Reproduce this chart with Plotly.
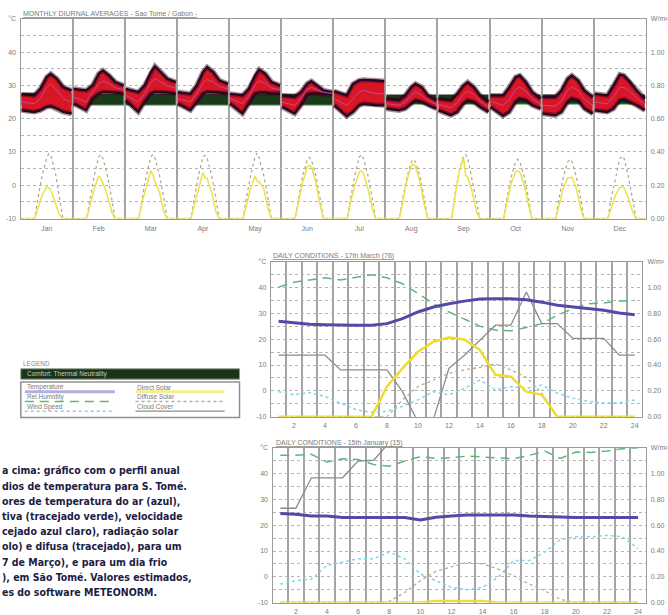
import plotly.graph_objects as go

W, H = 668, 615

# ---------------- data: monthly diurnal averages ----------------
MONTHS = ["Jan", "Feb", "Mar", "Apr", "May", "Jun", "Jul", "Aug", "Sep", "Oct", "Nov", "Dec"]
TEMP_HOURS = [0, 6, 9, 12, 14, 17, 20, 24]
TEMP_UPPER = [
    [27.3, 27, 29, 32.5, 33.5, 32, 29.5, 28.5],
    [29, 28.5, 30, 33.5, 34.5, 33, 31, 30],
    [29, 28, 30, 34, 35.8, 34, 32, 31],
    [28, 27.5, 30, 34, 35.5, 34, 31.5, 30.5],
    [27.5, 27, 29, 33, 34.8, 33.5, 31, 30],
    [27, 26.5, 28, 30.5, 31.3, 30, 28.5, 28],
    [28.3, 27, 30.5, 31.5, 31.7, 31.5, 31.5, 31.3],
    [26, 25.5, 27, 29.5, 30.5, 29.5, 27, 25.5],
    [26, 25.5, 27.5, 30, 31, 29.5, 27, 25],
    [27, 27, 29.5, 32.5, 33, 31, 28, 26],
    [26.5, 26.5, 28.5, 32, 33, 31.5, 28.5, 26.5],
    [27.5, 27, 30, 33.3, 33, 31, 28.5, 26],
]
TEMP_LOWER = [
    [22.5, 22, 22.5, 23.5, 23.7, 23, 22, 21.5],
    [24.5, 22.5, 26, 27.5, 28, 28, 27.8, 27.5],
    [25.5, 22, 25, 27.5, 28, 28, 27.8, 27.5],
    [24.5, 22.5, 25, 27.5, 28, 28, 27.8, 27.5],
    [24.5, 21.5, 24.5, 27.5, 27.8, 27.8, 27.5, 27.5],
    [23.5, 21.5, 24, 27.3, 27.6, 27.5, 27.3, 27.3],
    [24, 20.7, 22, 24, 24.5, 24.3, 24, 24],
    [23, 22.5, 23, 24.5, 25.5, 25, 24, 23],
    [22.5, 21, 22, 24.5, 25.5, 25, 23.5, 22],
    [23.5, 20.8, 22, 25, 26, 25.5, 24, 23],
    [21.5, 21, 22, 25, 26, 25.5, 23, 21.5],
    [22.5, 22, 23, 25.5, 25.8, 25, 24, 22.5],
]
TEMP_MEAN = [
    [25, 24.5, 26, 29.5, 30.5, 28.5, 26, 25],
    [26.5, 25, 28, 30.5, 31.3, 30.5, 29.3, 28.7],
    [27, 25, 27.5, 30.8, 32, 31, 29.8, 29.2],
    [26, 25, 27.5, 30.8, 31.8, 31, 29.6, 29],
    [26, 24.5, 26.8, 30.2, 31.3, 30.6, 29.2, 28.7],
    [25, 24, 26, 28.9, 29.4, 28.7, 27.9, 27.6],
    [26, 24, 26, 28, 28.5, 28, 27.5, 27.5],
    [24.5, 24, 25, 27, 28, 27, 25.5, 24.3],
    [24.3, 23.3, 24.8, 27.3, 28.3, 27.3, 25.3, 23.5],
    [25.3, 24, 25.8, 28.8, 29.5, 28.3, 26, 24.5],
    [24, 23.8, 25.3, 28.5, 29.5, 28.5, 25.8, 24],
    [25, 24.5, 26.5, 29.4, 29.4, 28, 26.3, 24.3],
]
COMFORT_LOW = [24, 24, 24, 24, 24, 24, 24, 24.3, 24.3, 24.3, 24.3, 24.3]
COMFORT_HIGH = [27.8, 27.5, 27.5, 27.5, 27.5, 27.5, 27.5, 27.3, 27.3, 27.3, 27.3, 27.3]

SOLAR_HOURS = [0, 6.5, 8, 10, 12, 13, 14, 16, 18, 19.5, 24]
DIFFUSE_MONTH = [
    [-10, -10, -4, 3, 8, 9.5, 9, 4, -4, -10, -10],
    [-10, -10, -4, 3, 8.5, 9.2, 8, 3, -4, -10, -10],
    [-10, -10, -4, 3, 8.5, 9.2, 8, 3, -4, -10, -10],
    [-10, -10, -4, 3, 8.5, 9, 8, 3, -4, -10, -10],
    [-10, -10, -4, 3, 8.5, 9.7, 8, 3, -4, -10, -10],
    [-10, -10, -4, 3, 7.5, 8.4, 7.5, 3, -4, -10, -10],
    [-10, -10, -4, 3, 8.5, 9.2, 8, 3, -4, -10, -10],
    [-10, -10, -4, 2.5, 7, 7.8, 7, 2.5, -4, -10, -10],
    [-10, -10, -3, 4, 9, 9.2, 8, 2, -5, -10, -10],
    [-10, -10, -4, 2.5, 7, 7.8, 7, 2.5, -4, -10, -10],
    [-10, -10, -4, 2.5, 7, 7.8, 7, 2.5, -4, -10, -10],
    [-10, -10, -4, 2.5, 8, 8.8, 8, 2.5, -4, -10, -10],
]
DIRECT_MONTH = [
    [-10, -10, -7, -3, -0.5, -0.8, -1.5, -5, -9, -10, -10],
    [-10, -10, -6, -1, 2.8, 2, 0.5, -3, -8, -10, -10],
    [-10, -10, -5, 0, 4.4, 3, 1, -2, -8, -10, -10],
    [-10, -10, -6, -1, 3.8, 2.2, 2, -2, -8, -10, -10],
    [-10, -10, -6, -1, 2.8, 1.2, 1, -1, -7, -10, -10],
    [-10, -10, -5, 1, 5.5, 6, 5.5, 1, -6, -10, -10],
    [-10, -10, -5, 0, 4, 4.3, 3.5, -1, -7, -10, -10],
    [-10, -10, -5, 1.5, 6, 6.3, 5.5, 1, -6, -10, -10],
    [-10, -10, -4, 4, 8.4, 3, 2.5, -2, -8, -10, -10],
    [-10, -10, -5, 0.5, 4, 4.4, 4, 0, -6, -10, -10],
    [-10, -10, -6, -1, 2.2, 2.4, 2.4, -1, -7, -10, -10],
    [-10, -10, -7, -3, -0.7, -0.5, -0.8, -4, -8, -10, -10],
]

# ---------------- data: daily conditions ----------------
HOURS = list(range(1, 25))
HOUR_TICKS = [2, 4, 6, 8, 10, 12, 14, 16, 18, 20, 22, 24]

MAR_TEMP = [26.9, 26.3, 25.8, 25.6, 25.4, 25.4, 25.4, 26.0, 27.9, 30.5, 32.4, 33.7,
            34.7, 35.5, 35.6, 35.6, 35.2, 34.3, 33.1, 32.4, 31.8, 31.2, 30.1, 29.4]
MAR_RH = [40.1, 42, 42.9, 43.7, 42.9, 44, 44.9, 43.7, 41.4, 37.6, 33.7, 30.5,
          27.6, 25, 23.5, 23.2, 24.5, 26, 29.2, 31.8, 33.7, 34, 34.7, 35]
MAR_WIND = [-0.3, -1.5, -0.7, -2.2, -4.7, -7.3, -8.3, -7.9, -6, -3.5, -0.3, -1.5,
            1, 4.2, 0.4, 1.7, 1, 2.3, -0.9, -2.8, -4, -4.7, -4.7, -3.5]
MAR_CLOUD = [13.8, 13.8, 13.8, 13.8, 8.1, 8.1, 8.1, 8.1, -0.3, -12, -11, 8.7,
             13.8, 19.6, 25.4, 25.4, 38.2, 26, 26, 20.3, 20.3, 20.3, 13.8, 13.8]
MAR_DIFFUSE = [-10, -10, -10, -10, -10, -10, -10, -10, -3.5, 1.7, 4.2, 6.8,
               8.1, 9.1, 10.4, 8.1, 5.2, -0.9, -10, -10, -10, -10, -10, -10]
MAR_DIRECT = [-10, -10, -10, -10, -10, -10, -10, 1.7, 8.7, 15.1, 19, 20.6,
              19.9, 15.8, 6.2, 5.5, -0.3, -1.5, -10, -10, -10, -10, -10, -10]

JAN_TEMP = [24.6, 24.3, 23.6, 23.6, 23, 23, 23, 23, 23, 22, 23.1, 23.6,
            24, 24, 24, 24, 23.6, 23.4, 23, 23, 23, 23, 23, 23]
JAN_RH = [47.1, 47.1, 47.5, 44.5, 45.8, 45.5, 43.6, 42.9, 44.9, 46.6, 45.9, 46.2,
          46.8, 46.4, 46.2, 45.8, 47.1, 48.8, 45.9, 48.4, 48.2, 48.8, 49.7, 50.1]
JAN_WIND = [-2.8, -1.5, -0.9, 4.4, 5.7, 7, 7, 9.6, 7, 1.1, -1.5, -4.1,
            -5, -4.1, -0.2, 6.3, 6.3, 9.6, 14.4, 15.5, 15.5, 16.1, 15.5, 10.9]
JAN_CLOUD = [26.6, 26.6, 38.4, 38.4, 38.4, 44.9, 45.2, 52, 60, 60, 60, 60,
             60, 60, 60, 60, 60, 60, 60, 60, 60, 60, 60, 60]
JAN_DIFFUSE = [-10, -10, -10, -10, -10, -10, -10, -9.5, -6.1, -1.5, 2.1, 3.9,
               5.6, 5, 3, 0.4, -2.8, -5.4, -8.7, -10, -10, -10, -10, -10]
JAN_DIRECT = [-10, -10, -10, -10, -10, -10, -10, -10, -10, -10, -9.4, -9.4,
              -9.4, -9.4, -10, -10, -10, -10, -10, -10, -10, -10, -10, -10]

Y_TICKS = [-10, 0, 10, 20, 30, 40, 50]
Y_LEFT_LABELS = ["-10", "0", "10", "20", "30", "40", "°C"]
Y_RIGHT_LABELS = ["0.00", "0.20", "0.40", "0.60", "0.80", "1.00", "W/m²"]
Y_MINOR = [-5, 5, 15, 25, 35, 45]

TITLE_TOP = "MONTHLY DIURNAL AVERAGES - Sao Tome / Gabon -"
TITLE_MID = "DAILY CONDITIONS - 17th March (76)"
TITLE_BOT = "DAILY CONDITIONS - 15th January (15)"

LEGEND_LEFT = ["Temperature", "Rel.Humidity", "Wind Speed"]
LEGEND_RIGHT = ["Direct Solar", "Diffuse Solar", "Cloud Cover"]
COMFORT_LABEL = "Comfort: Thermal Neutrality"

CAPTION_LINES = [
    "a cima: gráfico com o perfil anual",
    "dios de temperatura para S. Tomé.",
    "ores de temperatura do ar (azul),",
    "tiva (tracejado verde), velocidade",
    "cejado azul claro), radiação solar",
    "olo) e difusa (tracejado), para um",
    "7 de Março), e para um dia frio",
    "), em São Tomé. Valores estimados,",
    "es do software METEONORM.",
]

# ---------------- styles ----------------
C_TEMP = "#5548a8"
C_RH = "#5cb87a"
C_WIND = "#86d2ea"
C_DIRECT = "#f0dc30"
C_DIFF = "#b2b08a"
C_CLOUD = "#8c8c8c"
GRID_V = "#a4a4a4"
GRID_H = "#b4b4b4"
AX_LINE = "#9a9a9a"
TICK_FONT = dict(family="Liberation Sans, Arial, sans-serif", size=7, color="#7a7a7a")


def px(x):
    return x / W


def py(y):
    return 1 - y / H


fig = go.Figure()

# ---------- top chart ----------
INSET = 0.02
cx, cy = [], []
for m in range(12):
    x0, x1 = m + INSET, m + 1 - INSET
    cx += [x0, x1, x1, x0, None]
    cy += [COMFORT_LOW[m], COMFORT_LOW[m], COMFORT_HIGH[m], COMFORT_HIGH[m], None]
fig.add_trace(go.Scatter(x=cx, y=cy, fill="toself", fillcolor="#1b3a1b", mode="lines",
                         line=dict(width=0), hoverinfo="skip", showlegend=False,
                         xaxis="x", yaxis="y"))
lx, ly = [], []
for m in range(12):
    lx += [m + INSET, m + 1 - INSET, None]
    ly += [COMFORT_LOW[m], COMFORT_LOW[m], None]
fig.add_trace(go.Scatter(x=lx, y=ly, mode="lines", line=dict(color="#7ccc7c", width=1.2),
                         hoverinfo="skip", showlegend=False, xaxis="x", yaxis="y"))

bx, by, ux, uy, dx, dy, mx, my = [], [], [], [], [], [], [], []
for m in range(12):
    hx = [m + INSET + h / 24 * (1 - 2 * INSET) for h in TEMP_HOURS]
    bx += hx + hx[::-1] + [None]
    by += TEMP_UPPER[m] + TEMP_LOWER[m][::-1] + [None]
    ux += hx + [None]
    uy += TEMP_UPPER[m] + [None]
    dx += hx + [None]
    dy += TEMP_LOWER[m] + [None]
    mx += hx + [None]
    my += TEMP_MEAN[m] + [None]
fig.add_trace(go.Scatter(x=bx, y=by, fill="toself", fillcolor="#d81626", mode="lines",
                         line=dict(width=0), hoverinfo="skip", showlegend=False,
                         xaxis="x", yaxis="y"))
for xs, ys in ((ux, uy), (dx, dy)):
    fig.add_trace(go.Scatter(x=xs, y=ys, mode="lines",
                             line=dict(color="rgba(70,0,25,0.45)", width=5),
                             hoverinfo="skip", showlegend=False, xaxis="x", yaxis="y"))
    fig.add_trace(go.Scatter(x=xs, y=ys, mode="lines", line=dict(color="#220820", width=2.2),
                             hoverinfo="skip", showlegend=False, xaxis="x", yaxis="y"))
fig.add_trace(go.Scatter(x=mx, y=my, mode="lines", line=dict(color="#c04a9a", width=1),
                         hoverinfo="skip", showlegend=False, xaxis="x", yaxis="y"))

sx, sdf, sdr = [], [], []
for m in range(12):
    sx += [m + h / 24 for h in SOLAR_HOURS]
    sdf += DIFFUSE_MONTH[m]
    sdr += DIRECT_MONTH[m]
fig.add_trace(go.Scatter(x=sx, y=sdf, mode="lines", line=dict(color="#a8a888", width=1.2, dash="dot"),
                         hoverinfo="skip", showlegend=False, xaxis="x", yaxis="y"))
fig.add_trace(go.Scatter(x=sx, y=sdr, mode="lines", line=dict(color="#eee048", width=1.5),
                         hoverinfo="skip", showlegend=False, xaxis="x", yaxis="y"))


# ---------- daily charts ----------
def add_daily(xa, ya, temp, rh, wind, cloud, diff, direct):
    kw = dict(xaxis=xa, yaxis=ya, hoverinfo="skip", showlegend=False, mode="lines")
    fig.add_trace(go.Scatter(x=HOURS, y=diff, line=dict(color=C_DIFF, width=1.3, dash="dot"), **kw))
    fig.add_trace(go.Scatter(x=HOURS, y=wind, line=dict(color=C_WIND, width=1.5, dash="dot"), **kw))
    fig.add_trace(go.Scatter(x=HOURS, y=cloud, line=dict(color=C_CLOUD, width=1.3), **kw))
    fig.add_trace(go.Scatter(x=HOURS, y=rh, line=dict(color=C_RH, width=1.5, dash="9px,6px"), **kw))
    fig.add_trace(go.Scatter(x=HOURS, y=temp, line=dict(color=C_TEMP, width=3), **kw))
    fig.add_trace(go.Scatter(x=HOURS, y=direct, line=dict(color=C_DIRECT, width=2.5), **kw))


add_daily("x2", "y2", MAR_TEMP, MAR_RH, MAR_WIND, MAR_CLOUD, MAR_DIFFUSE, MAR_DIRECT)
add_daily("x3", "y3", JAN_TEMP, JAN_RH, JAN_WIND, JAN_CLOUD, JAN_DIFFUSE, JAN_DIRECT)

# dummy traces for right-hand axes
for xa, ya in (("x", "y4"), ("x2", "y5"), ("x3", "y6")):
    fig.add_trace(go.Scatter(x=[None], y=[None], xaxis=xa, yaxis=ya, hoverinfo="skip",
                             showlegend=False, mode="lines"))


def yax(domain, anchor):
    return dict(domain=domain, anchor=anchor, range=[-10, 50], tickmode="array",
                tickvals=Y_TICKS, ticktext=Y_LEFT_LABELS, ticks="", showgrid=True,
                gridcolor=GRID_H, griddash="dot", gridwidth=1,
                minor=dict(tickmode="array", tickvals=Y_MINOR, showgrid=True, gridcolor=GRID_H,
                           griddash="dot", gridwidth=1, ticks=""),
                showline=True, mirror=True, linecolor=AX_LINE, linewidth=1.2,
                zeroline=False, tickfont=TICK_FONT, fixedrange=True, ticklabelstandoff=2)


def yright(overlay, anchor):
    return dict(overlaying=overlay, anchor=anchor, side="right", range=[-10, 50],
                tickmode="array", tickvals=Y_TICKS, ticktext=Y_RIGHT_LABELS, ticks="",
                showgrid=False, zeroline=False, showline=False, tickfont=TICK_FONT,
                fixedrange=True, ticklabelstandoff=4)


def xdaily(domain, anchor):
    return dict(domain=domain, anchor=anchor, range=[0.5, 24.5], tickmode="array",
                tickvals=HOUR_TICKS, ticktext=[str(h) for h in HOUR_TICKS], ticks="",
                showgrid=False,
                minor=dict(tickmode="array", tickvals=[h + 0.5 for h in range(1, 24)],
                           showgrid=True, gridcolor=GRID_V, gridwidth=2, ticks=""),
                showline=True, mirror=True, linecolor=AX_LINE, linewidth=1.2,
                zeroline=False, tickfont=TICK_FONT, fixedrange=True, ticklabelstandoff=2)


fig.update_layout(
    width=W, height=H, margin=dict(l=0, r=0, t=0, b=0),
    paper_bgcolor="white", plot_bgcolor="white", showlegend=False,
    xaxis=dict(domain=[px(20.7), px(651.7)], anchor="y", range=[0, 12], tickmode="array",
               tickvals=[m + 0.5 for m in range(12)], ticktext=MONTHS, ticks="", showgrid=False,
               minor=dict(tickmode="array", tickvals=list(range(1, 12)), showgrid=True,
                          gridcolor=GRID_V, gridwidth=2, ticks=""),
               showline=True, mirror=True, linecolor=AX_LINE, linewidth=1.2, zeroline=False,
               tickfont=TICK_FONT, fixedrange=True, ticklabelstandoff=3),
    yaxis=yax([py(217), py(15)], "x"),
    yaxis4=yright("y", "x"),
    xaxis2=xdaily([px(273.3), px(648.3)], "y2"),
    yaxis2=yax([py(417.5), py(260.5)], "x2"),
    yaxis5=yright("y2", "x2"),
    xaxis3=xdaily([px(275), px(651.7)], "y3"),
    yaxis3=yax([py(605.5), py(449)], "x3"),
    yaxis6=yright("y3", "x3"),
)

# ---------- titles ----------
TITLE_FONT = dict(family="Liberation Sans, Arial, sans-serif", size=7, color="#7a7a7a")
for text, x, y in ((TITLE_TOP, 21, 10), (TITLE_MID, 273, 254.5), (TITLE_BOT, 276, 444)):
    fig.add_annotation(text="<u>" + text + "</u>", xref="paper", yref="paper", x=px(x), y=py(y),
                       xanchor="left", yanchor="middle", showarrow=False, font=TITLE_FONT)

# ---------- legend box ----------
fig.add_annotation(text="LEGEND", xref="paper", yref="paper", x=px(21), y=py(364),
                   xanchor="left", yanchor="middle", showarrow=False,
                   font=dict(family="Liberation Sans, Arial", size=6.5, color="#8a8a8a"))
fig.add_shape(type="rect", xref="paper", yref="paper", x0=px(21), x1=px(241.7), y0=py(379.5),
              y1=py(369), fillcolor="#1b3319", line=dict(color="#8aa08a", width=1))
fig.add_annotation(text=COMFORT_LABEL, xref="paper", yref="paper", x=px(25), y=py(374.3),
                   xanchor="left", yanchor="middle", showarrow=False,
                   font=dict(family="Liberation Sans, Arial", size=6.5, color="#c4ccc4"))
fig.add_shape(type="rect", xref="paper", yref="paper", x0=px(21), x1=px(241.7), y0=py(418.3),
              y1=py(382.3), fillcolor="white", line=dict(color="#909090", width=1.5))

LEG_STYLES_L = [dict(color="#b4aede", width=3), dict(color=C_RH, width=1.5, dash="9px,6px"),
                dict(color=C_WIND, width=1.5, dash="dot")]
LEG_STYLES_R = [dict(color="#f6ee8c", width=3), dict(color=C_DIFF, width=1.3, dash="dot"),
                dict(color=C_CLOUD, width=1.3)]
for i in range(3):
    ty = 387.5 + i * 10
    ly_ = 392.3 + i * 9.8
    for lab, st, x0, x1 in ((LEGEND_LEFT[i], LEG_STYLES_L[i], 25, 116),
                            (LEGEND_RIGHT[i], LEG_STYLES_R[i], 136.7, 226.7)):
        fig.add_annotation(text=lab, xref="paper", yref="paper", x=px(x0), y=py(ty),
                           xanchor="left", yanchor="middle", showarrow=False,
                           font=dict(family="Liberation Sans, Arial", size=6.5, color="#7a7a7a"))
        fig.add_shape(type="line", xref="paper", yref="paper", x0=px(x0), x1=px(x1),
                      y0=py(ly_), y1=py(ly_), line=st)

# ---------- caption ----------
CAP_FONT = dict(family="Liberation Sans Narrow, DejaVu Sans Condensed, Arial Narrow, sans-serif",
                size=10.5, color="#1c1c44", weight="bold")
for i, line in enumerate(CAPTION_LINES):
    fig.add_annotation(text=line, xref="paper", yref="paper", x=px(0.5), y=py(471.7 + i * 15.4),
                       xanchor="left", yanchor="middle", align="left", showarrow=False,
                       font=CAP_FONT)

fig.write_html("out.html", config={"displayModeBar": False},
               post_script="document.body.style.margin='0px';")
